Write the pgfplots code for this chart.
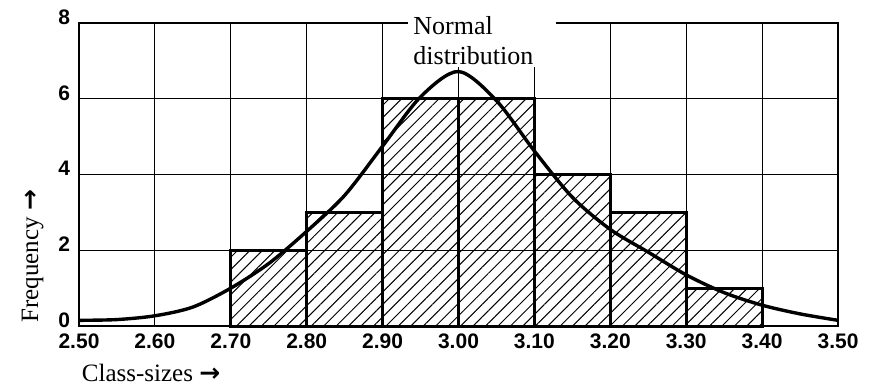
\documentclass[border=0pt]{standalone}
\usepackage{fontspec}
\setmainfont{Liberation Serif}
\newfontfamily\ticksf{Liberation Sans}
\newfontfamily\arrowsf{DejaVu Sans}
\usepackage{pgfplots}
\pgfplotsset{compat=1.18}
\usetikzlibrary{patterns.meta}

\begin{document}
\begin{tikzpicture}
\begin{axis}[
    scale only axis,
    width=379.5pt, height=151.5pt,
    xmin=2.5, xmax=3.5, ymin=0, ymax=8,
    xtick={2.5,2.6,2.7,2.8,2.9,3.0,3.1,3.2,3.3,3.4,3.5},
    xticklabels={2.50,2.60,2.70,2.80,2.90,3.00,3.10,3.20,3.30,3.40,3.50},
    ytick={0,2,4,6,8},
    yticklabels={0,2,4,6,8},
    major tick length=0pt,
    grid=major,
    major grid style={black, line width=0.5pt},
    axis line style={line width=1.1pt},
    ticklabel style={font=\ticksf\bfseries\fontsize{10.5}{12}\selectfont},
    yticklabel style={yshift=3pt, xshift=-1pt},
    xticklabel style={yshift=-0.5pt},
    clip=false,
]
% histogram
\addplot[ybar interval, draw=black, line width=1.5pt,
    pattern={Lines[angle=45, distance=4.4pt, line width=0.5pt]}, pattern color=black]
coordinates {
    (2.7,2) (2.8,3) (2.9,6) (3.0,6) (3.1,4) (3.2,3) (3.3,1) (3.4,1)
};
% normal curve
\addplot[black, line width=1.7pt, smooth, tension=0.5] coordinates {
    (2.50,0.15) (2.55,0.17) (2.60,0.27) (2.65,0.5) (2.70,1.0) (2.75,1.65)
    (2.80,2.5) (2.85,3.45) (2.90,4.75) (2.95,6.05) (3.00,6.72) (3.05,5.95)
    (3.10,4.62) (3.15,3.4) (3.20,2.55) (3.25,1.95) (3.30,1.35) (3.35,0.88)
    (3.40,0.55) (3.45,0.32) (3.50,0.15)
};
\coordinate (O) at (rel axis cs:0,0);
\coordinate (lab) at (rel axis cs:0.4335,1.03);
\node[rotate=90, font=\fontsize{12.5}{14}\selectfont] at (rel axis cs:-0.061,0.23)
    {Frequency {\arrowsf\bfseries →}};
\node[font=\fontsize{12.5}{14}\selectfont] at (rel axis cs:0.095,-0.155)
    {Class-sizes {\arrowsf\bfseries →}};
\end{axis}
\node[anchor=north west, fill=white, align=left, text width=69pt,
      inner xsep=2.5pt, inner ysep=1pt,
      font=\fontsize{13}{15}\selectfont] at (lab) {Normal\\distribution};
\path (O) ++(-39.5pt,-30.5pt) rectangle ++(441pt,193.5pt);
\end{tikzpicture}
\end{document}
